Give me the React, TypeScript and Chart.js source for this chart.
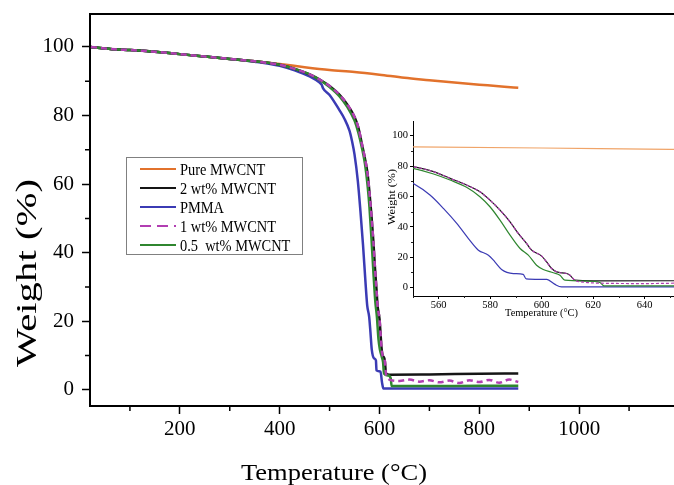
import React, { useEffect, useRef } from 'react';
import { Chart, registerables } from 'chart.js';
Chart.register(...registerables);

const FONT = '"Liberation Serif", "Times New Roman", serif';

// ---- data (temperature °C / weight %) ----
const pureT = [22, 40, 70, 100, 150, 200, 250, 300, 350, 400, 450, 500, 550, 600, 650, 700, 750, 800, 850, 878];
const pureW = [100, 99.7, 99.3, 99.1, 98.6, 97.9, 97.2, 96.5, 95.8, 95.0, 94.1, 93.3, 92.7, 91.9, 91.0, 90.3, 89.6, 89.0, 88.4, 88.1];

const mw2T = [22, 40, 70, 100, 150, 200, 250, 300, 350, 400, 430, 460, 480, 500, 520, 535, 550, 558, 564.4, 570.8, 576, 579.9, 583.8, 587.7, 590.9, 594.1, 596.1, 600, 601.9, 603.9, 605.8, 609.7, 611, 612.9, 620, 700, 800, 878];
const mw2W = [100, 99.7, 99.3, 99.1, 98.6, 97.9, 97.2, 96.5, 95.8, 94.8, 93.6, 92.0, 90.5, 88.6, 86.0, 83.3, 79.6, 76.3, 71.9, 67.5, 63.1, 57.6, 51.0, 43.3, 35.6, 29.0, 24.6, 20.7, 16.9, 12.5, 10.3, 9.2, 8.1, 4.8, 4.4, 4.5, 4.7, 4.8];

const pmmaT = [22, 40, 70, 100, 150, 200, 250, 300, 350, 400, 430, 460, 480, 484, 487, 500, 520, 530, 540, 545, 550, 556.6, 561.8, 567, 572, 575.4, 579.3, 581.8, 584.4, 589, 592.8, 594, 602, 605, 607.7, 700, 800, 878];
const pmmaW = [100, 99.7, 99.3, 99.1, 98.6, 97.9, 97.2, 96.5, 95.7, 94.5, 93.2, 91.4, 89.6, 89.0, 87.9, 86.0, 81.5, 79.0, 75.5, 72.5, 68.6, 60.9, 52.1, 42.2, 31.2, 24.6, 21.3, 16.9, 11.9, 9.2, 8.6, 5.7, 5.3, 2.2, 0.4, 0.4, 0.4, 0.4];

const mw1T = [22, 40, 70, 100, 150, 200, 250, 300, 350, 400, 430, 460, 480, 500, 520, 535, 550, 558, 564.4, 570.8, 576, 579.9, 583.8, 587.7, 590.9, 594.1, 596.1, 600, 601.9, 603.9, 605.8, 609.7, 611, 612.9, 616, 620, 640, 660, 680, 700, 720, 740, 760, 780, 800, 820, 840, 860, 878];
const mw1W = [100, 99.7, 99.3, 99.1, 98.6, 97.9, 97.2, 96.5, 95.8, 94.8, 93.6, 92.0, 90.5, 88.6, 86.0, 83.3, 79.6, 76.3, 71.9, 67.5, 63.1, 57.6, 51.0, 43.3, 35.6, 29.0, 24.6, 20.7, 16.9, 12.5, 10.3, 9.2, 8.1, 4.8, 3.6, 3.0, 2.6, 3.0, 2.4, 2.8, 2.2, 2.7, 2.0, 2.8, 2.3, 2.9, 2.1, 3.0, 2.3];

const mw05T = [22, 40, 70, 100, 150, 200, 250, 300, 350, 400, 430, 460, 480, 500, 520, 535, 550, 558, 564.4, 570.8, 576, 579.9, 583.8, 587.7, 591.6, 594.8, 598, 600.6, 604.5, 607.1, 609, 617.4, 622.6, 624.2, 700, 800, 878];
const mw05W = [100, 99.7, 99.3, 99.1, 98.6, 97.9, 97.2, 96.5, 95.8, 94.8, 93.6, 92.0, 90.4, 88.3, 85.6, 82.6, 78.5, 74.8, 70.8, 66.0, 59.8, 53.2, 44.4, 34.5, 25.7, 21.3, 14.7, 11.9, 9.7, 8.1, 4.8, 4.2, 3.3, 1.1, 1.1, 1.2, 1.2];

const seriesNames = ['Pure MWCNT', '2 wt% MWCNT', 'PMMA', '1 wt% MWCNT', '0.5  wt% MWCNT'];

// ---- ticks ----
const mainXTicks = [200, 400, 600, 800, 1000];
const mainXMinor = [100, 300, 500, 700, 900, 1100];
const mainYTicks = [0, 20, 40, 60, 80, 100];
const mainYMinor = [10, 30, 50, 70, 90];
const insetXTicks = [560, 580, 600, 620, 640];
const insetXMinor = [550, 570, 590, 610, 630, 650];
const insetYTicks = [0, 20, 40, 60, 80, 100];
const insetYMinor = [10, 30, 50, 70, 90];

const COLORS = {
  pure: '#E2722C',
  pureInset: '#F0A468',
  mw2: '#151515',
  pmma: '#3B3BB4',
  mw1: '#B23EB2',
  mw05: '#2F862F',
};

const pts = (xs: number[], ys: number[]) => xs.map((x, i) => ({ x, y: ys[i] }));

function drawText(ctx: CanvasRenderingContext2D, text: string, x: number, y: number, size: number,
  o: { align?: CanvasTextAlign; baseline?: CanvasTextBaseline; rotate?: boolean; width?: number; sx?: number } = {}) {
  ctx.save();
  ctx.font = `${size}px ${FONT}`;
  let sx = o.sx ?? 1;
  if (o.width) sx = o.width / ctx.measureText(text).width;
  ctx.translate(x, y);
  if (o.rotate) ctx.rotate(-Math.PI / 2);
  ctx.scale(sx, 1);
  ctx.textAlign = o.align ?? 'center';
  ctx.textBaseline = o.baseline ?? 'alphabetic';
  ctx.fillStyle = '#000';
  ctx.fillText(text, 0, 0);
  ctx.restore();
}

function datasets(inset: boolean) {
  const w = inset ? 1.2 : 2.5;
  const base = { pointRadius: 0, borderWidth: w, fill: false, cubicInterpolationMode: 'monotone' as const, borderJoinStyle: 'round' as const };
  return [
    { ...base, label: seriesNames[0], data: pts(pureT, pureW), borderColor: inset ? COLORS.pureInset : COLORS.pure, order: 4 },
    { ...base, label: seriesNames[1], data: pts(mw2T, mw2W), borderColor: COLORS.mw2, order: 2 },
    { ...base, label: seriesNames[2], data: pts(pmmaT, pmmaW), borderColor: COLORS.pmma, order: 3 },
    { ...base, label: seriesNames[3], data: pts(mw1T, mw1W), borderColor: COLORS.mw1, borderDash: inset ? [3, 2] : [6, 4], order: 0 },
    { ...base, label: seriesNames[4], data: pts(mw05T, mw05W), borderColor: COLORS.mw05, order: 1 },
  ];
}

const mainDecor = {
  id: 'mainDecor',
  afterDraw(chart: any) {
    const { ctx, chartArea: a, scales } = chart;
    const x = scales.x, y = scales.y;
    ctx.save();
    ctx.strokeStyle = '#000';
    ctx.lineWidth = 2;
    ctx.beginPath();
    ctx.moveTo(a.left - 1, a.top);
    ctx.lineTo(a.right, a.top);
    ctx.stroke();
    ctx.lineWidth = 1.5;
    ctx.beginPath();
    for (const v of mainXMinor) {
      const px = x.getPixelForValue(v);
      ctx.moveTo(px, a.bottom);
      ctx.lineTo(px, a.bottom + 5);
    }
    for (const v of mainYMinor) {
      const py = y.getPixelForValue(v);
      ctx.moveTo(a.left, py);
      ctx.lineTo(a.left - 5, py);
    }
    ctx.stroke();
    ctx.restore();

    // axis titles
    drawText(ctx, 'Temperature (°C)', 334, 480, 24, { width: 186 });
    drawText(ctx, 'Weight (%)', 36, 273, 29, { rotate: true, width: 188 });

    // legend
    const lx = 126, ly = 157, lw = 176, lh = 97;
    ctx.save();
    ctx.fillStyle = '#fff';
    ctx.fillRect(lx, ly, lw, lh);
    ctx.strokeStyle = '#808080';
    ctx.lineWidth = 1;
    ctx.strokeRect(lx + 0.5, ly + 0.5, lw, lh);
    const rows = [169, 188, 207, 226, 245];
    const cols = [COLORS.pure, COLORS.mw2, COLORS.pmma, COLORS.mw1, COLORS.mw05];
    rows.forEach((ry, i) => {
      ctx.strokeStyle = cols[i];
      ctx.lineWidth = 2;
      ctx.setLineDash(i === 3 ? [11, 6] : []);
      ctx.beginPath();
      ctx.moveTo(140, ry);
      ctx.lineTo(176, ry);
      ctx.stroke();
      ctx.setLineDash([]);
      drawText(ctx, seriesNames[i], 180, ry + 5.5, 16, { align: 'left', sx: 0.9 });
    });
    ctx.restore();
  },
};

const insetDecor = {
  id: 'insetDecor',
  afterDraw(chart: any) {
    const { ctx, chartArea: a, scales } = chart;
    const x = scales.x, y = scales.y;
    ctx.save();
    ctx.strokeStyle = '#222';
    ctx.lineWidth = 1;
    ctx.beginPath();
    for (const v of insetXMinor) {
      const px = Math.round(x.getPixelForValue(v)) + 0.5;
      ctx.moveTo(px, a.bottom);
      ctx.lineTo(px, a.bottom + 2);
    }
    for (const v of insetYMinor) {
      const py = Math.round(y.getPixelForValue(v)) + 0.5;
      ctx.moveTo(a.left, py);
      ctx.lineTo(a.left - 2, py);
    }
    ctx.stroke();
    ctx.restore();
    drawText(ctx, 'Temperature (°C)', 171.5, 216, 10.5, { width: 73 });
    drawText(ctx, 'Weight (%)', 25, 97, 11, { rotate: true, width: 56 });
  },
};

const noPad = (s: any) => { s.paddingTop = 0; s.paddingBottom = 0; s.paddingLeft = 0; s.paddingRight = 0; };

function axisCommon(size: number, tickLen: number, pad: number, tickW: number, borderW: number) {
  return {
    type: 'linear' as const,
    grid: { display: true, drawOnChartArea: false, drawTicks: true, tickLength: tickLen, tickWidth: tickW, tickColor: '#000' },
    border: { display: true, color: '#000', width: borderW },
    ticks: { font: { family: FONT, size }, color: '#000', padding: pad, maxRotation: 0, autoSkip: false, callback: (v: any) => String(v) },
  };
}

export default function App() {
  const mainRef = useRef<HTMLCanvasElement>(null);
  const insetRef = useRef<HTMLCanvasElement>(null);

  useEffect(() => {
    const main = new Chart(mainRef.current!, {
      type: 'line',
      data: { datasets: datasets(false) as any },
      options: {
        animation: false,
        responsive: false,
        maintainAspectRatio: false,
        layout: { padding: { left: 0, top: 14, right: 0, bottom: 0 } },
        plugins: { legend: { display: false }, tooltip: { enabled: false }, title: { display: false } },
        scales: {
          x: {
            ...axisCommon(21, 8, 3, 1.5, 2),
            min: 20, max: 1190,
            afterBuildTicks: (s: any) => { s.ticks = mainXTicks.map((v) => ({ value: v })); },
            afterFit: (s: any) => { s.height = 79; noPad(s); },
          },
          y: {
            ...axisCommon(21, 8, 8, 1.5, 2),
            min: -4.7, max: 109.6,
            afterBuildTicks: (s: any) => { s.ticks = mainYTicks.map((v) => ({ value: v })); },
            afterFit: (s: any) => { s.width = 90; noPad(s); },
          },
        },
      } as any,
      plugins: [mainDecor],
    });

    const inset = new Chart(insetRef.current!, {
      type: 'line',
      data: { datasets: datasets(true) as any },
      options: {
        animation: false,
        responsive: false,
        maintainAspectRatio: false,
        layout: { padding: { left: 0, top: 21, right: 0, bottom: 0 } },
        plugins: { legend: { display: false }, tooltip: { enabled: false }, title: { display: false } },
        scales: {
          x: {
            ...axisCommon(10.5, 3, 0, 1, 1),
            min: 550, max: 651.4,
            afterBuildTicks: (s: any) => { s.ticks = insetXTicks.map((v) => ({ value: v })); },
            afterFit: (s: any) => { s.height = 34; noPad(s); },
          },
          y: {
            ...axisCommon(10.5, 3, 2, 1, 1),
            min: -5.6, max: 109.7,
            afterBuildTicks: (s: any) => { s.ticks = insetYTicks.map((v) => ({ value: v })); },
            afterFit: (s: any) => { s.width = 43; noPad(s); },
          },
        },
      } as any,
      plugins: [insetDecor],
    });

    return () => {
      main.destroy();
      inset.destroy();
    };
  }, []);

  return (
    <div style={{ position: 'fixed', left: 0, top: 0, width: 674, height: 485, overflow: 'hidden', background: '#fff' }}>
      <canvas ref={mainRef} width={674} height={485} style={{ position: 'absolute', left: 0, top: 0, width: 674, height: 485 }} />
      <canvas ref={insetRef} width={304} height={230} style={{ position: 'absolute', left: 370, top: 100, width: 304, height: 230 }} />
    </div>
  );
}
